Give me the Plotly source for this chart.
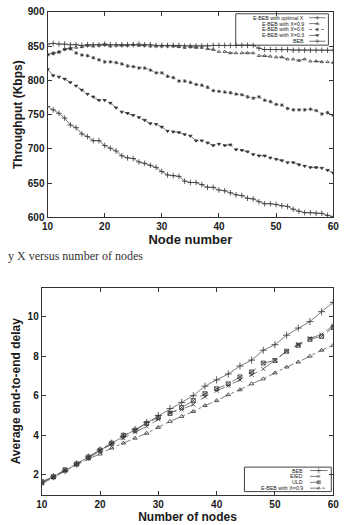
import plotly.graph_objects as go

# ---------------- Top chart: throughput ----------------
nodes_top = list(range(10, 61))
thr_optimal = [853, 854, 853, 853, 852, 852, 851, 852, 852, 852, 853, 852, 852, 852, 852, 852, 853, 852, 852, 851,
               851, 851, 851, 851, 850, 850, 850, 850, 850, 851, 851, 851, 851, 851, 851, 851, 851, 847, 845, 845,
               845, 845, 845, 844, 844, 844, 844, 844, 844, 844, 844]
thr_x09 = [838, 840, 842, 846, 847, 848, 849, 851, 850, 851, 852, 850, 851, 851, 851, 852, 851, 851, 850, 850,
           850, 850, 850, 849, 848, 849, 848, 848, 846, 845, 842, 842, 840, 840, 840, 840, 840, 836, 836, 835,
           834, 834, 831, 831, 829, 831, 828, 828, 827, 827, 826]
thr_x06 = [837, 839, 841, 845, 846, 840, 837, 836, 833, 830, 827, 827, 826, 824, 821, 820, 818, 818, 815, 811,
           811, 806, 804, 799, 799, 797, 794, 793, 790, 785, 784, 783, 782, 780, 779, 776, 774, 776, 771, 769,
           765, 764, 759, 757, 757, 757, 758, 756, 751, 753, 749]
thr_x03 = [816, 807, 805, 802, 797, 792, 786, 780, 776, 771, 771, 767, 760, 754, 752, 749, 746, 742, 737, 736,
           732, 726, 725, 724, 721, 719, 712, 712, 709, 705, 707, 705, 706, 699, 698, 696, 692, 690, 690, 687,
           685, 683, 680, 680, 677, 675, 673, 673, 672, 669, 665]
thr_beb = [762, 757, 752, 745, 735, 731, 722, 718, 712, 712, 705, 701, 697, 690, 687, 686, 681, 679, 676, 673,
           667, 662, 661, 660, 653, 651, 651, 648, 644, 644, 640, 639, 636, 633, 632, 628, 627, 623, 620, 620,
           619, 617, 616, 612, 609, 607, 607, 606, 606, 603, 601]
top_xticks = [10, 20, 30, 40, 50, 60]
top_yticks = [600, 650, 700, 750, 800, 850, 900]
top_names = ["E-BEB with optimal X", "E-BEB with X=0.9", "E-BEB with X=0.6", "E-BEB with X=0.3", "BEB"]

# ---------------- Bottom chart: delay ----------------
nodes_bot = list(range(10, 61, 2))
del_beb = [1.6, 1.9, 2.2, 2.55, 2.9, 3.25, 3.6, 3.95, 4.3, 4.65, 5.0, 5.35, 5.66,
           6.0, 6.48, 6.8, 7.1, 7.5, 7.8, 8.3, 8.58, 9.06, 9.42, 9.75, 10.25, 10.72]
del_eied = [1.6, 1.9, 2.2, 2.55, 2.85, 3.2, 3.55, 3.85, 4.15, 4.45, 4.8, 5.15, 5.3,
            5.55, 5.95, 6.25, 6.5, 6.8, 7.05, 7.35, 7.8, 8.25, 8.6, 8.9, 9.1, 9.55]
del_uld = [1.65, 1.9, 2.25, 2.55, 2.9, 3.25, 3.6, 4.0, 4.25, 4.6, 4.9, 5.1, 5.4,
           5.75, 6.1, 6.35, 6.6, 6.95, 7.2, 7.65, 7.78, 8.25, 8.55, 8.85, 9.0, 9.45]
del_ebeb09 = [1.55, 1.85, 2.2, 2.5, 2.8, 3.05, 3.35, 3.6, 3.85, 4.1, 4.4, 4.7, 4.95,
              5.2, 5.5, 5.75, 6.05, 6.3, 6.6, 6.85, 7.15, 7.45, 7.7, 8.0, 8.3, 8.55]
bot_xticks = [10, 20, 30, 40, 50, 60]
bot_yticks = [2, 4, 6, 8, 10]
bot_names = ["BEB", "EIED", "ULD", "E-BEB with X=0.9"]

caption = "y X versus number of nodes"

LC = "#5a5a5a"
MC = "#333333"
TXT = "#1a1a1a"
FONT = "Liberation Sans, Arial, sans-serif"
W, H = 346, 525

fig = go.Figure()

top_styles = [("solid", "cross-thin", 4), ("dash", "triangle-up-open", 3),
              ("dot", "asterisk-open", 3), ("dash", "triangle-down", 3),
              ("solid", "cross-thin", 4)]
top_data = [thr_optimal, thr_x09, thr_x06, thr_x03, thr_beb]
for name, ys, (dash, sym, sz) in zip(top_names, top_data, top_styles):
    fig.add_trace(go.Scatter(
        x=nodes_top, y=ys, name=name, mode="lines+markers", showlegend=False,
        line=dict(color=LC, width=0.8, dash=dash),
        marker=dict(symbol=sym, size=sz, color=MC, line=dict(color=MC, width=0.8)),
        xaxis="x", yaxis="y"))

bot_styles = [("solid", "cross-thin", 5), ("dash", "x-thin-open", 4),
              ("dash", "square-x-open", 4), ("dashdot", "triangle-up-open", 4)]
bot_data = [del_beb, del_eied, del_uld, del_ebeb09]
for name, ys, (dash, sym, sz) in zip(bot_names, bot_data, bot_styles):
    fig.add_trace(go.Scatter(
        x=nodes_bot, y=ys, name=name, mode="lines+markers", showlegend=False,
        line=dict(color=LC, width=0.8, dash=dash),
        marker=dict(symbol=sym, size=sz, color=MC, line=dict(color=MC, width=0.8)),
        xaxis="x2", yaxis="y2"))

# ---------- manual compact legends (gnuplot style: label right-aligned, sample on the right) ----------
shapes = []
annotations = []
leg_x, leg_y, leg_sym, leg_sz = [], [], [], []


def add_legend(names, styles, box, text_right, s0, s1, row_h, first_y):
    x0, y0, x1, y1 = box
    shapes.append(dict(type="rect", xref="paper", yref="paper",
                       x0=x0 / W, x1=x1 / W, y0=1 - y1 / H, y1=1 - y0 / H,
                       line=dict(color="#444444", width=1), fillcolor="white", layer="below"))
    for i, (nm, (dash, sym, sz)) in enumerate(zip(names, styles)):
        yy = first_y + i * row_h
        annotations.append(dict(text=nm, x=text_right / W, y=1 - yy / H, xref="paper", yref="paper",
                                xanchor="right", yanchor="middle", showarrow=False,
                                font=dict(family=FONT, size=5.3, color=TXT)))
        shapes.append(dict(type="line", xref="paper", yref="paper",
                           x0=s0 / W, x1=s1 / W, y0=1 - yy / H, y1=1 - yy / H,
                           line=dict(color=LC, width=0.8, dash=dash), layer="below"))
        leg_x.append((s0 + s1) / 2)
        leg_y.append(yy)
        leg_sym.append(sym)
        leg_sz.append(max(sz - 1, 3))


add_legend(top_names, top_styles, (238, 9, 334, 41), 311, 314, 331, 6.0, 13.0)
add_legend(bot_names, bot_styles, (247, 472, 337, 497), 310, 315, 333, 6.0, 475.5)

fig.add_trace(go.Scatter(
    x=leg_x, y=leg_y, mode="markers", showlegend=False, hoverinfo="skip",
    marker=dict(symbol=leg_sym, size=leg_sz, color=MC, line=dict(color=MC, width=0.8)),
    xaxis="x3", yaxis="y3"))

top_x = [43 / W, 339 / W]
top_y = [1 - 217 / H, 1 - 7 / H]
bot_x = [37 / W, 339 / W]
bot_y = [1 - 500 / H, 1 - 289 / H]

axis_common = dict(
    showgrid=False, zeroline=False, showline=True, linecolor="#333333", linewidth=1,
    mirror="ticks", ticks="inside", ticklen=4, tickcolor="#333333",
    tickfont=dict(family=FONT, size=10, color=TXT, weight="bold"),
)

annotations.append(dict(text=caption, x=0, y=1 - 256 / H, xref="paper", yref="paper",
                        xanchor="left", yanchor="middle", showarrow=False,
                        font=dict(family="Liberation Serif, Times New Roman, serif",
                                  size=12, color="#333333")))

fig.update_layout(
    width=W, height=H,
    margin=dict(l=0, r=0, t=0, b=0),
    paper_bgcolor="white", plot_bgcolor="rgba(0,0,0,0)",
    showlegend=False,
    xaxis=dict(domain=top_x, range=[10, 60], tickvals=top_xticks, anchor="y",
               title=dict(text="Node number", standoff=2,
                          font=dict(family=FONT, size=13, color=TXT, weight="bold")),
               **axis_common),
    yaxis=dict(domain=top_y, range=[600, 900], tickvals=top_yticks, anchor="x",
               title=dict(text="Throughput (Kbps)", standoff=2,
                          font=dict(family=FONT, size=12, color=TXT, weight="bold")),
               **axis_common),
    xaxis2=dict(domain=bot_x, range=[10, 60], tickvals=bot_xticks, anchor="y2",
                title=dict(text="Number of nodes", standoff=2,
                           font=dict(family=FONT, size=12, color=TXT, weight="bold")),
                **axis_common),
    yaxis2=dict(domain=bot_y, range=[1.0, 11.45], tickvals=bot_yticks, anchor="x2",
                title=dict(text="Average end-to-end delay", standoff=4,
                           font=dict(family=FONT, size=12, color=TXT, weight="bold")),
                **axis_common),
    xaxis3=dict(domain=[0, 1], range=[0, W], visible=False, anchor="y3", fixedrange=True),
    yaxis3=dict(domain=[0, 1], range=[H, 0], visible=False, anchor="x3", fixedrange=True),
    shapes=shapes,
    annotations=annotations,
)

fig.write_html("out.html")
